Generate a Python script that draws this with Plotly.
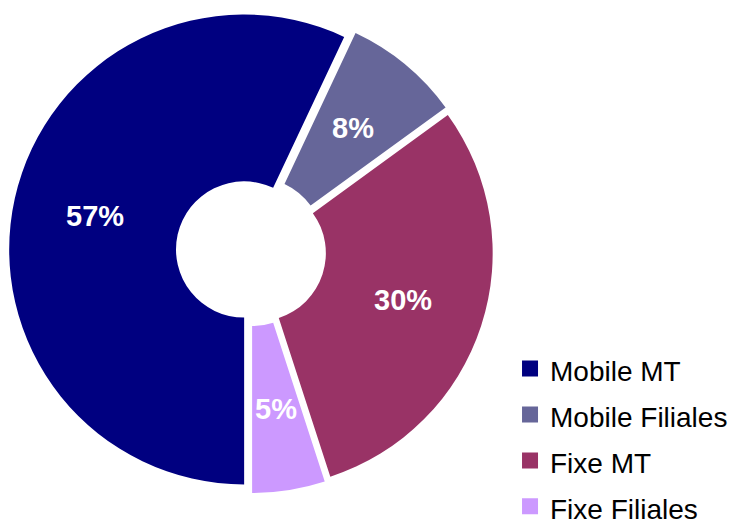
import math
import plotly.graph_objects as go

labels = ["Mobile MT", "Mobile Filiales", "Fixe MT", "Fixe Filiales"]
values = [57, 8, 30, 5]
colors = ["#000080", "#666699", "#993366", "#CC99FF"]

FONT = "Liberation Sans, Arial, sans-serif"
PULL = 0.03
START_ANGLE = 180  # first slice starts at 6 o'clock, going clockwise
LABEL_R = 0.68     # label distance from centre, as fraction of pie radius
DOMAIN = dict(x=[0.0123, 0.6726], y=[0.0537, 0.9827])

# label positions derived from the data (mid-angle of each slice)
total = sum(values)
cum = 0
mid_angles = []
for v in values:
    mid_angles.append(START_ANGLE + 360.0 * (cum + v / 2.0) / total)
    cum += v
pct_text = [f"{round(100 * v / total)}%" for v in values]

fig = go.Figure()

fig.add_trace(
    go.Pie(
        labels=labels,
        values=values,
        sort=False,
        direction="clockwise",
        rotation=START_ANGLE,
        hole=0.29,
        pull=PULL,
        marker=dict(colors=colors, line=dict(width=0)),
        textinfo="none",
        domain=DOMAIN,
        showlegend=False,
        hoverinfo="label+percent",
    )
)

# legend entries (square markers)
for lab, col in zip(labels, colors):
    fig.add_trace(
        go.Scatter(
            x=[None],
            y=[None],
            mode="markers",
            marker=dict(symbol="square", size=16, color=col),
            name=f'<span style="font-size:28px">{lab}</span>',
            showlegend=True,
            hoverinfo="skip",
        )
    )

# percentage labels on a hidden cartesian frame matching the pie (unit = radius)
annotations = []
for ang, txt in zip(mid_angles, pct_text):
    a = math.radians(ang)
    annotations.append(
        dict(
            x=LABEL_R * math.sin(a),
            y=LABEL_R * math.cos(a),
            xref="x",
            yref="y",
            text=txt,
            showarrow=False,
            xanchor="center",
            yanchor="middle",
            font=dict(family=FONT, size=29, color="white", weight="bold"),
        )
    )

fig.update_layout(
    width=733,
    height=521,
    margin=dict(l=0, r=0, t=0, b=0, autoexpand=False),
    paper_bgcolor="white",
    plot_bgcolor="rgba(0,0,0,0)",
    showlegend=True,
    xaxis=dict(visible=False, domain=DOMAIN["x"], range=[-(1 + PULL), 1 + PULL], fixedrange=True),
    yaxis=dict(visible=False, domain=DOMAIN["y"], range=[-(1 + PULL), 1 + PULL], fixedrange=True),
    annotations=annotations,
    legend=dict(
        x=0.6958,
        xanchor="left",
        y=-0.0262,
        yanchor="bottom",
        font=dict(family=FONT, size=33, color="black"),
        bgcolor="rgba(0,0,0,0)",
        borderwidth=0,
        itemsizing="trace",
    ),
)

fig.write_html(
    "out.html",
    config={"displayModeBar": False},
    post_script="document.body.style.margin='0';",
)
